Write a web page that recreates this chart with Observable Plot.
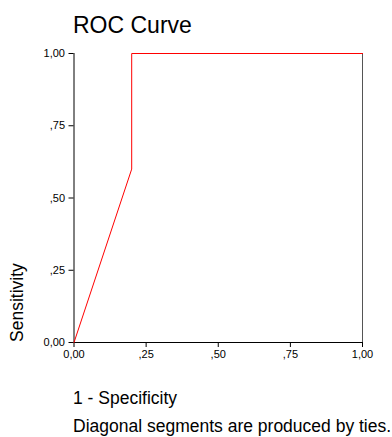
<!DOCTYPE html>
<html>
<head>
<meta charset="utf-8">
<script src="https://cdn.jsdelivr.net/npm/d3@7"></script>
<script src="https://cdn.jsdelivr.net/npm/@observablehq/plot@0.6"></script>
<style>
  html, body { margin: 0; padding: 0; background: #fff; }
  #wrap { position: relative; width: 392px; height: 437px; overflow: hidden; font-family: "Liberation Sans", Arial, sans-serif; color: #000; }
  #chart { position: absolute; left: 0; top: 0; }
  .txt { position: absolute; white-space: nowrap; line-height: 1; }
  #title { left: 73px; top: 14px; font-size: 23px; }
  #ylab { left: 18px; top: 342px; font-size: 17.5px; transform-origin: 0 0; transform: rotate(-90deg) translate(0, -50%); }
  #xlab { left: 73px; top: 390px; font-size: 17.5px; }
  #note { left: 73px; top: 418px; font-size: 17.5px; }
</style>
</head>
<body>
<div id="wrap">
  <div id="chart"></div>
  <div class="txt" id="title">ROC Curve</div>
  <div class="txt" id="ylab">Sensitivity</div>
  <div class="txt" id="xlab">1 - Specificity</div>
  <div class="txt" id="note">Diagonal segments are produced by ties.</div>
</div>
<script>
const specificity1 = [0, 0.2, 0.2, 1];
const sensitivity = [0, 0.6, 1, 1];
const tickValues = [0, 0.25, 0.5, 0.75, 1];
const tickLabels = ["0,00", ",25", ",50", ",75", "1,00"];

const pts = specificity1.map((x, i) => ({x, y: sensitivity[i]}));
const fmt = v => tickLabels[tickValues.indexOf(v)];

const chart = Plot.plot({
  width: 392,
  height: 365,
  marginTop: 53,
  marginLeft: 73.5,
  marginRight: 30,
  marginBottom: 23,
  style: {fontFamily: "'Liberation Sans', Arial, sans-serif", fontSize: "11px", color: "#000", background: "#fff"},
  x: {domain: [0, 1]},
  y: {domain: [0, 1]},
  marks: [
    Plot.ruleY([0], {stroke: "#000", strokeWidth: 1}),
    Plot.ruleX([0], {stroke: "#000", strokeWidth: 1}),
    Plot.ruleX([1], {stroke: "#555", strokeWidth: 1}),
    Plot.axisX({ticks: tickValues, tickFormat: fmt, tickSize: 5, tickPadding: 3, label: null, stroke: "#000", fontSize: 11}),
    Plot.axisY({ticks: tickValues, tickFormat: fmt, tickSize: 5, tickPadding: 4, label: null, stroke: "#000", fontSize: 11}),
    Plot.line(pts, {x: "x", y: "y", stroke: "#ff0000", strokeWidth: 1})
  ]
});
document.getElementById("chart").appendChild(chart);
</script>
</body>
</html>
